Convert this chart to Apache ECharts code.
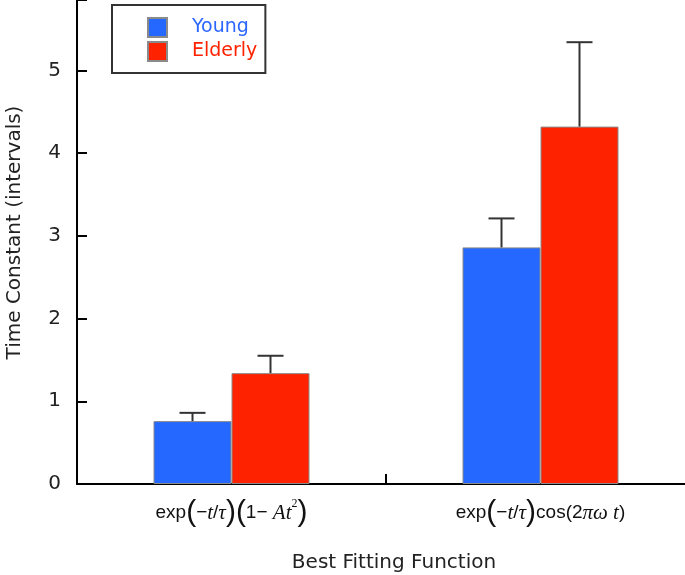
<!DOCTYPE html>
<html>
<head>
<meta charset="utf-8">
<script src="https://cdn.jsdelivr.net/npm/echarts@6/dist/echarts.min.js"></script>
<style>html,body{margin:0;padding:0;background:#fff}#c{width:685px;height:575px}</style>
</head>
<body>
<div id="c"></div>
<script>
// ---- data ----
var categories = ['exp(\u2212t/\u03c4)(1\u2212 At\u00b2)', 'exp(\u2212t/\u03c4)cos(2\u03c0\u03c9 t)'];
var youngMean = [0.76, 2.86];
var youngErr = [0.10, 0.35];
var elderlyMean = [1.34, 4.32];
var elderlyErr = [0.21, 1.02];
var yTicks = [0, 1, 2, 3, 4, 5];

// rich-text renderings of the category labels
var richLabels = [
  '{n|exp}{p|(}{n|\u2212}{i|t}{n|/}{i|\u03c4}{p|)}{p|(}{n|1\u2212 }{i|At}{s|2}{p|)}',
  '{n|exp}{p|(}{n|\u2212}{i|t}{n|/}{i|\u03c4}{p|)}{n|cos(2}{i|\u03c0\u03c9 t}{n|)}'
];

var BAR_W = 78;
var UI_FONT = 'DejaVu Sans';
var chart = echarts.init(document.getElementById('c'), null, {renderer: 'canvas'});

function errRender(offset) {
  return function (params, api) {
    var idx = api.value(0);
    var top = api.coord([idx, api.value(2)]);
    var base = api.coord([idx, api.value(1)]);
    var x = top[0] + offset;
    var cap = 13;
    return {
      type: 'group',
      children: [
        {type: 'line', shape: {x1: x, y1: base[1], x2: x, y2: top[1]}, style: {stroke: '#333', lineWidth: 2}},
        {type: 'line', shape: {x1: x - cap, y1: top[1], x2: x + cap, y2: top[1]}, style: {stroke: '#333', lineWidth: 2}}
      ]
    };
  };
}

function errData(mean, err) {
  return mean.map(function (m, i) { return [i, m, m + err[i]]; });
}

var option = {
  animation: false,
  backgroundColor: '#fff',
  grid: {left: 77, top: 0, width: 618, bottom: 91, containLabel: false, outerBoundsMode: 'none'},
  legend: {
    left: 112, top: 5, orient: 'vertical',
    data: [
      {name: 'Young', textStyle: {color: '#2a66ff'}},
      {name: 'Elderly', textStyle: {color: '#ff2200'}}
    ],
    icon: 'rect', itemWidth: 19, itemHeight: 19, itemGap: 3,
    padding: [12, 8, 11, 35],
    borderColor: '#333', borderWidth: 2, backgroundColor: '#fff',
    textStyle: {fontSize: 19, fontFamily: UI_FONT, padding: [0, 0, 0, 20], lineHeight: 19}
  },
  xAxis: {
    type: 'category', data: categories,
    name: 'Best Fitting Function', nameLocation: 'middle', nameGap: 69,
    nameTextStyle: {fontSize: 20, color: '#222', fontFamily: UI_FONT, padding: [0, 0, 0, 16]},
    axisLine: {lineStyle: {color: '#000', width: 2}},
    axisTick: {show: true, alignWithLabel: false, inside: true, length: 10, interval: 0, lineStyle: {color: '#000', width: 2}},
    axisLabel: {
      margin: 14, color: '#111', interval: 0, hideOverlap: false,
      formatter: function (v, i) { return richLabels[i]; },
      rich: {
        n: {fontSize: 19, fontFamily: 'Liberation Sans', color: '#111'},
        i: {fontSize: 21, fontFamily: 'Liberation Serif', fontStyle: 'italic', color: '#111'},
        s: {fontSize: 12, fontFamily: 'Liberation Serif', color: '#111', verticalAlign: 'top', padding: [0, 0, 14, 0]},
        p: {fontSize: 30, fontFamily: 'Liberation Sans', color: '#111'}
      }
    },
    splitLine: {show: false}
  },
  yAxis: {
    type: 'value', min: 0, max: 5.85, interval: 1,
    name: 'Time Constant (intervals)', nameLocation: 'middle', nameGap: 52,
    nameTextStyle: {fontSize: 20, color: '#222', fontFamily: UI_FONT, padding: [0, 0, 0, 19]},
    axisLine: {show: true, lineStyle: {color: '#000', width: 2}},
    axisTick: {show: true, inside: true, length: 10, lineStyle: {color: '#000', width: 2}},
    axisLabel: {
      margin: 16, fontSize: 20, color: '#222', fontFamily: UI_FONT,
      formatter: function (v) { return yTicks.indexOf(v) >= 0 ? String(v) : ''; }
    },
    splitLine: {show: false}
  },
  series: [
    {name: 'Young', type: 'bar', data: youngMean, barWidth: BAR_W, barGap: '0%',
     itemStyle: {color: '#2468ff', borderColor: '#8a8a8a', borderWidth: 1}},
    {name: 'Elderly', type: 'bar', data: elderlyMean, barWidth: BAR_W, barGap: '0%',
     itemStyle: {color: '#ff2200', borderColor: '#8a8a8a', borderWidth: 1}},
    {name: 'Young error', type: 'custom', renderItem: errRender(-BAR_W / 2), data: errData(youngMean, youngErr), z: 5,
     encode: {x: 0, y: [1, 2]}},
    {name: 'Elderly error', type: 'custom', renderItem: errRender(BAR_W / 2), data: errData(elderlyMean, elderlyErr), z: 5,
     encode: {x: 0, y: [1, 2]}}
  ]
};
chart.setOption(option);
</script>
</body>
</html>
